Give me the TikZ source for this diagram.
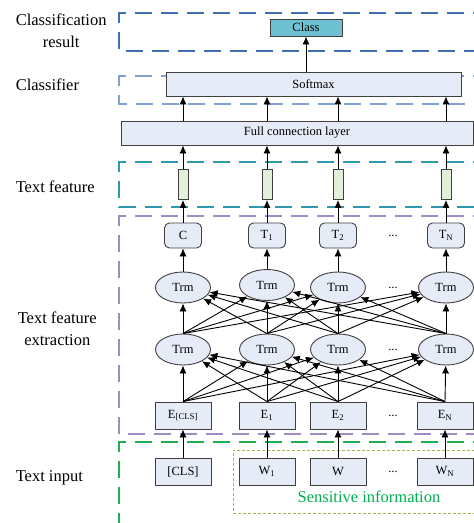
\documentclass[tikz,border=0pt]{standalone}
\usepackage{fontspec}
\setmainfont{Liberation Serif}
\usetikzlibrary{arrows.meta,shapes.geometric}

\definecolor{nodefill}{HTML}{E6ECF7}
\definecolor{nodeedge}{HTML}{404040}
\definecolor{classfill}{HTML}{6EC1D0}
\definecolor{featfill}{HTML}{E2F0D9}
\definecolor{resultline}{HTML}{3F6FB0}
\definecolor{clfline}{HTML}{82A0D2}
\definecolor{featline}{HTML}{2F9AAF}
\definecolor{extrline}{HTML}{A08CC4}
\definecolor{inputline}{HTML}{20B050}
\definecolor{sensline}{HTML}{9BBB59}
\definecolor{senstext}{HTML}{00B050}

\tikzset{
  layer/.style={line width=1.2pt, dash pattern=on 17pt off 9pt},
  label/.style={anchor=west, align=center, font=\fontsize{16.5}{22}\selectfont},
  box/.style={draw=nodeedge, fill=nodefill, line width=0.9pt, minimum width=56pt,
    minimum height=27pt, inner sep=1pt, font=\fontsize{12.5}{14}\selectfont},
  trm/.style={ellipse, draw=nodeedge, fill=nodefill, line width=0.9pt, minimum width=55pt,
    minimum height=31pt, inner sep=0pt, font=\fontsize{12.5}{14}\selectfont},
  feat/.style={draw=nodeedge, fill=featfill, line width=0.9pt, minimum width=10pt,
    minimum height=30pt, inner sep=0pt},
  dots/.style={font=\fontsize{12.5}{14}\selectfont}
}

\begin{document}
\begin{tikzpicture}[x=1pt, y=-1pt, >={Latex[length=8pt,width=7pt]}, line width=0.9pt]
    \useasboundingbox (0,0) rectangle (474,523);
    \clip (0,0) rectangle (474,523);

    % layer frames
    \draw[layer, resultline] (490,13) -- (119,13) -- (119,51) -- (490,51);
    \draw[layer, clfline] (490,76) -- (119,76) -- (119,104) -- (490,104);
    \draw[layer, featline] (490,162) -- (119,162) -- (119,207) -- (490,207);
    \draw[layer, extrline] (490,216) -- (119,216) -- (119,434) -- (490,434);
    \draw[layer, inputline] (490,442) -- (119,442) -- (119,540);
    \draw[sensline, line width=0.9pt, dash pattern=on 3pt off 2pt] (490,450) -- (233,450) -- (233,513) -- (490,513);

    % layer names
    \node[label] (lres) at (12,31) {Classification\\result};
    \node[label] (lclf) at (12,85) {Classifier};
    \node[label] (lfeat) at (12,187) {Text feature};
    \node[label] (lext) at (14,329) {Text feature\\extraction};
    \node[label] (lin) at (12,478) {Text input};

    % classifier
    \node[box, fill=classfill, minimum width=72pt, minimum height=17pt] (cls) at (306,27.5) {Class};
    \node[box, minimum width=295pt, minimum height=24pt] (softmax) at (313.5,84) {Softmax};
    \node[box, minimum width=352pt, minimum height=24pt] (fc) at (297,133) {Full connection layer};

    % text feature
    \node[feat] (f1) at (183,184.5) {};
    \node[feat] (f2) at (267,184.5) {};
    \node[feat] (f3) at (338,184.5) {};
    \node[feat] (f4) at (446,184.5) {};

    % outputs
    \node[box, rounded corners=5pt, minimum width=37pt, minimum height=25pt] (c) at (183,235.5) {C};
    \node[box, rounded corners=5pt, minimum width=37pt, minimum height=25pt] (t1) at (267,235.5) {T\textsubscript{1}};
    \node[box, rounded corners=5pt, minimum width=37pt, minimum height=25pt] (t2) at (338,235.5) {T\textsubscript{2}};
    \node[box, rounded corners=5pt, minimum width=37pt, minimum height=25pt] (tn) at (446,235.5) {T\textsubscript{N}};
    \node[dots] (d1) at (393,235.5) {...};

    % transformer layers
    \node[trm] (u1) at (183,287.5) {Trm};
    \node[trm] (u2) at (267,285) {Trm};
    \node[trm] (u3) at (338,287.5) {Trm};
    \node[trm] (u4) at (446,287.5) {Trm};
    \node[dots] (d2) at (393,287.5) {...};

    \node[trm] (l1) at (183,349.5) {Trm};
    \node[trm] (l2) at (267,349.5) {Trm};
    \node[trm] (l3) at (338,349.5) {Trm};
    \node[trm] (l4) at (446,349.5) {Trm};
    \node[dots] (d3) at (393,349.5) {...};

    % embeddings
    \node[box] (ecls) at (183,415.5) {E\textsubscript{[CLS]}};
    \node[box] (e1) at (267,415.5) {E\textsubscript{1}};
    \node[box] (e2) at (338,415.5) {E\textsubscript{2}};
    \node[box] (en) at (445,415.5) {E\textsubscript{N}};
    \node[dots] (d4) at (393,415.5) {...};

    % input tokens
    \node[box] (wcls) at (183,471.5) {[CLS]};
    \node[box] (w1) at (267,471.5) {W\textsubscript{1}};
    \node[box] (w2) at (338,471.5) {W};
    \node[box] (wn) at (445,471.5) {W\textsubscript{N}};
    \node[dots] (d5) at (393,471.5) {...};
    \node[font=\fontsize{16.5}{18}\selectfont, text=senstext] (sens) at (369,497) {Sensitive information};

    % connections
    \draw[->] (wcls) -- (ecls);
    \draw[->] (w1) -- (e1);
    \draw[->] (w2) -- (e2);
    \draw[->] (wn) -- (en);

    \foreach \a in {ecls,e1,e2,en}
      \foreach \b in {l1,l2,l3,l4}
        \draw[->] (\a.north) -- (\b);
    \foreach \a in {l1,l2,l3,l4}
      \foreach \b in {u1,u2,u3,u4}
        \draw[->] (\a.north) -- (\b);

    \draw[->] (u1) -- (c);
    \draw[->] (u2) -- (t1);
    \draw[->] (u3) -- (t2);
    \draw[->] (u4) -- (tn);

    \draw[->] (c) -- (f1);
    \draw[->] (t1) -- (f2);
    \draw[->] (t2) -- (f3);
    \draw[->] (tn) -- (f4);

    \draw[->] (f1) -- (f1 |- fc.south);
    \draw[->] (f2) -- (f2 |- fc.south);
    \draw[->] (f3) -- (f3 |- fc.south);
    \draw[->] (f4) -- (f4 |- fc.south);

    \draw[->] (fc.north -| f1) -- (f1 |- softmax.south);
    \draw[->] (fc.north -| f2) -- (f2 |- softmax.south);
    \draw[->] (fc.north -| f3) -- (f3 |- softmax.south);
    \draw[->] (fc.north -| f4) -- (f4 |- softmax.south);

    \draw[->] (softmax.north -| cls) -- (cls);
  \end{tikzpicture}
\end{document}
